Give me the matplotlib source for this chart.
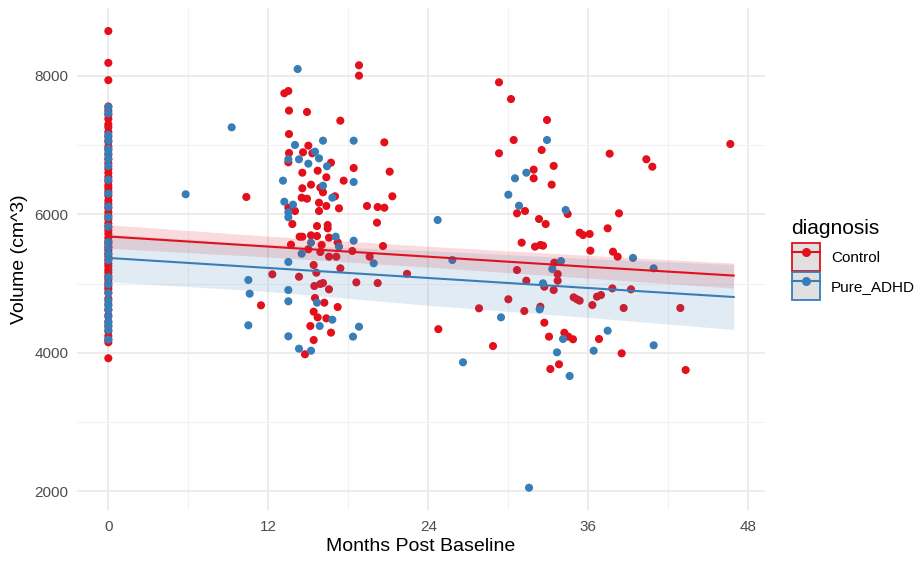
import numpy as np
import matplotlib.pyplot as plt
from matplotlib.lines import Line2D
from matplotlib.patches import Patch

plt.rcParams["font.family"] = ["Liberation Sans", "DejaVu Sans"]

RED = "#E3101C"
BLUE = "#377EB8"

# Brain volume by visit, Control group
ctrl_base = [8650, 8190, 7940, 7560, 7500, 7440, 7380, 7300, 7260, 7190, 7120, 7050,
             6980, 6930, 6860, 6800, 6740, 6660, 6600, 6540, 6480, 6420, 6380, 6330,
             6270, 6200, 6150, 6090, 6030, 5980, 5930, 5870, 5820, 5770, 5720, 5660,
             5610, 5570, 5520, 5480, 5430, 5390, 5340, 5290, 5250, 5200, 5160, 5110,
             5060, 5010, 4960, 4920, 4870, 4780, 4700, 4620, 4540, 4450, 4380, 4310,
             4240, 4190, 4150, 3920]
ctrl_months = [18.8, 18.8, 13.2, 13.5, 13.55, 14.9, 17.4, 13.55, 15.0, 20.7, 13.55, 14.6,
               15.3, 13.5, 16.7, 18.4, 15.7, 14.55, 21.1, 16.35, 17.65, 15.2, 14.55, 15.9,
               16.1, 10.35, 14.5, 14.9, 17.0, 21.3, 15.8, 16.35, 17.3, 19.4, 20.2, 20.7,
               13.5, 14.0, 15.8,
               13.8, 15.65, 16.45, 16.45, 20.15, 14.35, 14.55, 15.2, 15.65, 16.55, 13.7, 16.0,
               17.2, 15.0, 15.9, 18.3, 20.6, 16.55, 17.1, 19.6, 15.4, 17.4, 15.6, 12.3,
               14.3, 18.6, 20.2, 15.45, 15.9, 16.1, 16.55, 15.5, 16.2, 11.45, 17.2, 15.4,
               15.7, 16.35, 15.15, 16.7, 15.4, 14.75,
               22.4, 24.75,
               29.3, 30.2, 32.9, 30.4, 32.5, 29.3, 37.6, 31.9, 33.4, 31.9, 33.25, 30.65,
               31.25, 34.45, 38.3, 32.3, 32.8, 35.35, 35.6, 36.1, 37.45, 31.0, 32.0, 32.4,
               32.6, 36.15, 37.85, 38.2, 33.45, 30.65, 33.7, 31.35, 33.7, 32.7, 33.4, 37.8,
               39.2, 34.9, 35.15, 35.35, 36.65, 36.95, 30.0, 36.3, 27.8, 31.2, 32.4, 38.65,
               32.7, 34.2, 34.5, 34.85, 33.05, 36.8, 28.85, 38.5, 33.8, 33.15,
               40.35, 40.8, 46.65, 42.9, 43.3]
ctrl_volume = [8155, 8005, 7750, 7783, 7500, 7480, 7354, 7161, 6993, 7041, 6887, 6897,
               6883, 6752, 6747, 6670, 6631, 6602, 6617, 6536, 6487, 6429, 6377, 6386,
               6319, 6251, 6241, 6226, 6261, 6261, 6168, 6121, 6087, 6121, 6106, 6096,
               6096, 6048, 6048,
               5860, 5831, 5846, 5798, 5880, 5677, 5677, 5697, 5687, 5663, 5562, 5557,
               5596, 5495, 5456, 5470, 5542, 5388, 5388, 5388, 5268, 5220, 5156, 5133,
               5098, 5017, 5007, 4964, 4993, 5007, 4916, 4791, 4723, 4685, 4660, 4593,
               4511, 4497, 4386, 4290, 4183, 3977,
               5140, 4340,
               7909, 7667, 7364, 7075, 6930, 6883, 6877, 6646, 6700, 6521, 6429, 6015,
               6048, 6005, 6015, 5933, 5860, 5735, 5701, 5716, 5798, 5591, 5533, 5557,
               5547, 5475, 5460, 5388, 5301, 5195, 5137, 5041, 5041, 4954, 4906, 4930,
               4916, 4800, 4772, 4752, 4810, 4834, 4772, 4689, 4642, 4603, 4665, 4646,
               4434, 4289, 4232, 4194, 4232, 4198, 4096, 3991, 3832, 3764,
               6796, 6689, 7017, 4646, 3750]

# Pure_ADHD group
adhd_base = [7550, 7460, 7150, 7070, 6950, 6880, 6800, 6700, 6500, 6300, 6110, 5960,
             5820, 5600, 5530, 5430, 5340, 5090, 4990, 4860, 4750, 4680, 4620, 4520,
             4440, 4400, 4330, 4190]
adhd_months = [14.2, 9.25, 5.8, 14.0, 16.1, 18.4, 15.5, 13.5, 14.3, 15.8, 15.0, 16.4,
               13.1, 18.4, 16.1, 16.8, 13.2, 13.85, 13.5, 13.5, 17.05, 15.2, 17.3, 18.4,
               14.5, 13.5, 19.9, 10.5, 13.5, 10.6, 13.5, 15.65, 16.8, 10.5, 15.85, 18.8,
               13.5, 18.35, 14.3, 15.2,
               24.7, 26.6, 25.8,
               32.9, 31.35, 30.5, 30.0, 30.8, 34.3, 39.35, 33.95, 33.3, 32.6, 32.35, 29.45,
               37.45, 34.1, 33.65, 36.4, 34.6, 31.55,
               40.9, 40.9]
adhd_volume = [8101, 7258, 6290, 7003, 7065, 7065, 6906, 6796, 6796, 6810, 6733, 6695,
               6487, 6468, 6414, 6241, 6183, 6140, 6030, 5958, 5677, 5591, 5533, 5619,
               5431, 5311, 5292, 5051, 4906, 4853, 4743, 4723, 4477, 4396, 4386, 4376,
               4237, 4232, 4058, 4029,
               5918, 3861, 5340,
               7075, 6602, 6521, 6284, 6125, 6063, 5370, 5325, 5210, 5003, 4627, 4511,
               4318, 4198, 4005, 4029, 3663, 2048,
               5220, 4107]

# Fitted lines with confidence band half-widths
fit_x = [0, 12, 24, 36, 46.9]
ctrl_fit = [5680, 5534, 5388, 5242, 5115]
ctrl_half = [170, 150, 150, 165, 180]
adhd_fit = [5370, 5225, 5080, 4935, 4805]
adhd_half = [345, 340, 395, 425, 470]

fig = plt.figure(figsize=(9.2, 5.62), dpi=100)
ax = fig.add_axes([77 / 920, 52 / 562, 688 / 920, 502 / 562])

groups = [
    ("Control", RED, ctrl_base, ctrl_months, ctrl_volume, ctrl_fit, ctrl_half),
    ("Pure_ADHD", BLUE, adhd_base, adhd_months, adhd_volume, adhd_fit, adhd_half),
]

for name, col, base, months, vol, fit, half in groups:
    x = np.concatenate([np.zeros(len(base)), months])
    y = np.concatenate([base, vol])
    ax.scatter(x, y, s=34, color=col, edgecolors="none", zorder=3)

for name, col, base, months, vol, fit, half in groups:
    fit = np.array(fit)
    half = np.array(half)
    ax.fill_between(fit_x, fit - half, fit + half, color=col, alpha=0.15,
                    linewidth=0, zorder=4)
    ax.plot(fit_x, fit, color=col, lw=1.5, zorder=5)

ax.set_xlim(-2.35, 49.25)
ax.set_ylim(1726, 8983)
ax.set_xticks([0, 12, 24, 36, 48])
ax.set_xticks([6, 18, 30, 42], minor=True)
ax.set_yticks([2000, 4000, 6000, 8000])
ax.set_yticks([3000, 5000, 7000], minor=True)

ax.grid(which="major", color="#ebebeb", lw=1.3)
ax.grid(which="minor", color="#f2f2f2", lw=0.8)
ax.set_axisbelow(True)
for s in ax.spines.values():
    s.set_visible(False)
ax.tick_params(which="both", length=0, labelsize=11, colors="#4d4d4d", pad=6)
ax.tick_params(axis="x", pad=7)

ax.set_xlabel("Months Post Baseline", fontsize=14, color="black", labelpad=3)
ax.set_ylabel("Volume (cm^3)", fontsize=14, color="black", labelpad=5)

# legend: title drawn on its own so the gap to the keys can be set
fig.text(791 / 920, 1 - 228 / 562, "diagnosis", fontsize=15, va="center", ha="left")
handles = [
    (Patch(facecolor="#e0e0e0", edgecolor=col, linewidth=1.3),
     Line2D([], [], color=col, lw=1.5, marker="o", markersize=5.5))
    for col in (RED, BLUE)
]
fig.legend(handles, ["Control", "Pure_ADHD"],
           loc="upper left", bbox_to_anchor=(792 / 920, 1 - 243 / 562),
           frameon=False, fontsize=11, borderpad=0,
           handlelength=1.85, handleheight=2.45, handletextpad=0.7,
           labelspacing=0.05, borderaxespad=0)

fig.savefig("out.png", dpi=100)
